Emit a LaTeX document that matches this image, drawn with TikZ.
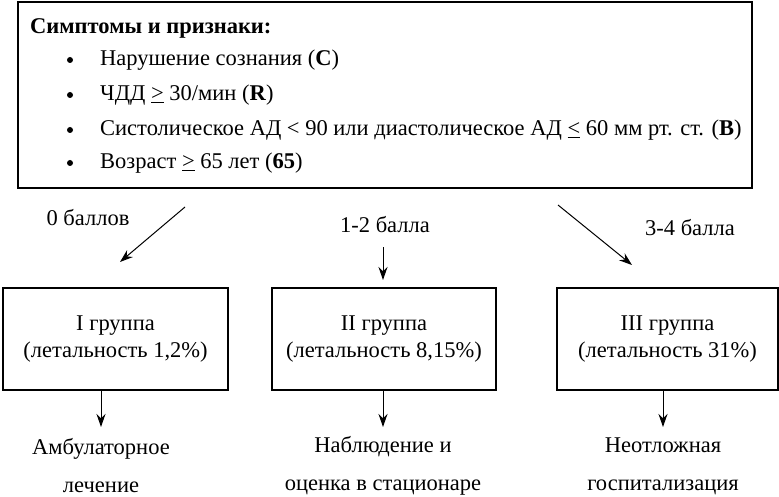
\documentclass[tikz,border=0pt]{standalone}
\usepackage{fontspec}
\setmainfont{Liberation Serif}
\usetikzlibrary{arrows.meta}
\begin{document}
\begin{tikzpicture}[x=1pt,y=-1pt,
 box/.style={draw,line width=1.2pt},
 arr/.style={-{Stealth[length=13pt,width=9pt]},line width=1pt},
 t/.style={font=\fontsize{22.5}{27}\selectfont,inner sep=0pt},
 tc/.style={t,align=center}]
\useasboundingbox (0,0) rectangle (779,497);
\draw[box] (18,2) rectangle (752,188);
\node[t,anchor=west] (title) at (30,28) {\textbf{Симптомы и признаки:}};
\foreach \y/\s in {60/{Нарушение сознания (\textbf{С})},95/{ЧДД \underline{>} 30/мин (\textbf{R})},130/{Систолическое АД < 90 или диастолическое АД \underline{<} 60 мм рт. ст. (\textbf{В})},163/{Возраст \underline{>} 65 лет (\textbf{65})}}{
 \fill (70,\y) circle (3pt);
 \node[t,anchor=west] at (100,\y) {\s};
}
\coordinate (s1) at (185,207); \coordinate (s2) at (383,247); \coordinate (s3) at (558,205);
\node[box,minimum width=225,minimum height=102,tc] (g1) at (115.5,339) {I группа\\(летальность 1,2\%)};
\node[box,minimum width=224,minimum height=102,tc] (g2) at (384,339) {II группа\\(летальность 8,15\%)};
\node[box,minimum width=221,minimum height=102,tc] (g3) at (667.5,339) {III группа\\(летальность 31\%)};
\draw[arr] (s1) -- (120,262);
\draw[arr] (s2) -- (383,280);
\draw[arr] (s3) -- (632,265);
\node[t] (l1) at (88,218) {0 баллов};
\node[t] (l2) at (385,225) {1-2 балла};
\node[t] (l3) at (690,228) {3-4 балла};
\node[tc,font=\fontsize{22.5}{38}\selectfont] (o1) at (101,466) {Амбулаторное\\лечение};
\node[tc,font=\fontsize{22.5}{38}\selectfont] (o2) at (383,466) {Наблюдение и\\оценка в стационаре};
\node[tc,font=\fontsize{22.5}{38}\selectfont] (o3) at (663,466) {Неотложная\\госпитализация};
\draw[arr] (101,390) -- (101,427);
\draw[arr] (383,390) -- (383,427);
\draw[arr] (663,390) -- (663,427);
\end{tikzpicture}
\end{document}
